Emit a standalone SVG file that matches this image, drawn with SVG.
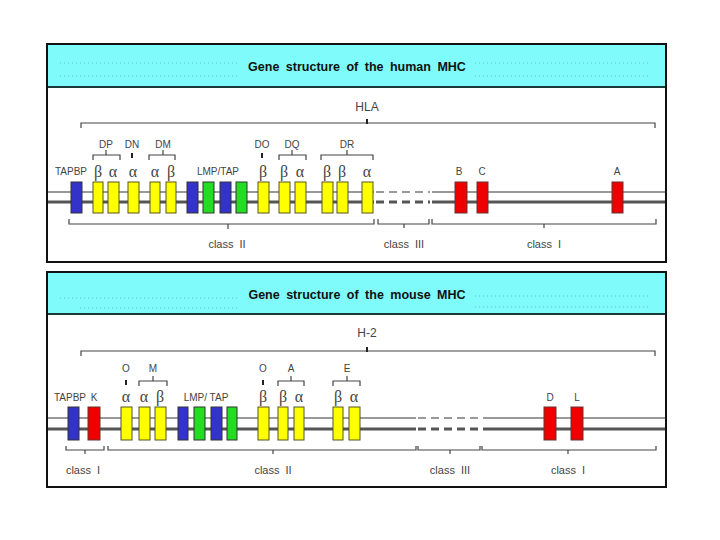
<svg xmlns="http://www.w3.org/2000/svg" width="720" height="540" viewBox="0 0 720 540">
<defs>
<style>
.panel{fill:#fff;stroke:#111;stroke-width:2}
.hdr{fill:#80fbfb}
.hline{stroke:#1a3a3a;stroke-width:2}
.dots{stroke:#5cc9c9;stroke-width:1;stroke-dasharray:1 3}
.title{font-family:"Liberation Sans",Arial,sans-serif;font-size:12.5px;font-weight:bold;fill:#111;text-anchor:middle;word-spacing:3px}
.lab{font-family:"Liberation Sans",Arial,sans-serif;font-size:10px;fill:#444;text-anchor:middle}
.big{font-family:"Liberation Sans",Arial,sans-serif;font-size:12px;fill:#444;text-anchor:middle}
.cls{font-family:"Liberation Sans",Arial,sans-serif;font-size:11px;fill:#444;text-anchor:middle;word-spacing:3px}
.sym{font-family:"Liberation Serif","DejaVu Serif",serif;font-size:16px;fill:#444;text-anchor:middle}
.br{fill:none;stroke:#444;stroke-width:1.2}
.tk{stroke:#222;stroke-width:2}
.l1{stroke:#999;stroke-width:2}
.l2{stroke:#555;stroke-width:3}
.d1{stroke:#999;stroke-width:2;stroke-dasharray:8 5}
.d2{stroke:#555;stroke-width:3;stroke-dasharray:8 5}
.y{fill:#ffff00;stroke:#555522;stroke-width:1}
.b{fill:#3333cc;stroke:#333;stroke-width:1}
.g{fill:#22dd22;stroke:#333;stroke-width:1}
.r{fill:#ee0000;stroke:#663333;stroke-width:1}
</style>
</defs>

<!-- HUMAN PANEL -->
<g id="human-panel">
<rect class="panel" x="47" y="44" width="619" height="218"/>
<rect class="hdr" x="48" y="45" width="617" height="42"/>
<line class="dots" x1="60" y1="63" x2="240" y2="63"/>
<line class="dots" x1="60" y1="76" x2="240" y2="76"/>
<line class="dots" x1="475" y1="63" x2="650" y2="63"/>
<line class="dots" x1="475" y1="76" x2="650" y2="76"/>
<line class="hline" x1="48" y1="87" x2="665" y2="87"/>
<text class="title" x="357" y="71">Gene structure of the human MHC</text>
<text class="big" x="367" y="111">HLA</text>
</g>

<g id="human-connectors">
<path class="br" d="M81,128 V123 H655 V128"/>
<line class="tk" x1="367" y1="119" x2="367" y2="124"/>
<path class="br" d="M93,160 V155 H120 V160"/><line class="br" x1="106" y1="150" x2="106" y2="155"/>
<line class="tk" x1="132" y1="153" x2="132" y2="158"/>
<path class="br" d="M149,160 V155 H175 V160"/><line class="br" x1="163" y1="150" x2="163" y2="155"/>
<line class="tk" x1="262" y1="153" x2="262" y2="158"/>
<path class="br" d="M279,160 V155 H306 V160"/><line class="br" x1="292" y1="150" x2="292" y2="155"/>
<path class="br" d="M321,160 V155 H373 V160"/><line class="br" x1="347" y1="150" x2="347" y2="155"/>
<line class="l1" x1="48" y1="192" x2="374" y2="192"/>
<line class="l2" x1="48" y1="202" x2="374" y2="202"/>
<line class="d1" x1="376" y1="192" x2="430" y2="192"/>
<line class="d2" x1="376" y1="202" x2="430" y2="202"/>
<line class="l1" x1="432" y1="192" x2="665" y2="192"/>
<line class="l2" x1="432" y1="202" x2="665" y2="202"/>
<path class="br" d="M69,219 V224 H374 V219"/><line class="br" x1="228" y1="224" x2="228" y2="229"/>
<path class="br" d="M378,219 V224 H429 V219"/><line class="br" x1="404" y1="224" x2="404" y2="228"/>
<path class="br" d="M432,219 V224 H656 V219"/><line class="br" x1="544" y1="224" x2="544" y2="228"/>
</g>

<g id="human-labels">
<text class="lab" x="106" y="148">DP</text>
<text class="lab" x="132" y="148">DN</text>
<text class="lab" x="163" y="148">DM</text>
<text class="lab" x="262" y="148">DO</text>
<text class="lab" x="292" y="148">DQ</text>
<text class="lab" x="347" y="148">DR</text>
<text class="lab" x="71" y="175">TAPBP</text>
<text class="lab" x="218" y="175">LMP/TAP</text>
<text class="lab" x="459" y="175">B</text>
<text class="lab" x="482" y="175">C</text>
<text class="lab" x="617" y="175">A</text>
<text class="cls" x="227" y="248">class II</text>
<text class="cls" x="404" y="248">class III</text>
<text class="cls" x="544" y="248">class I</text>
</g>

<g id="h-TAPBP"><rect class="b" x="71" y="182" width="11" height="31"/></g>
<g id="h-DPB"><rect class="y" x="93" y="182" width="10" height="31"/><text class="sym" x="98" y="177">β</text></g>
<g id="h-DPA"><rect class="y" x="108" y="182" width="11" height="31"/><text class="sym" x="113" y="177">α</text></g>
<g id="h-DNA"><rect class="y" x="128" y="182" width="11" height="31"/><text class="sym" x="133" y="177">α</text></g>
<g id="h-DMA"><rect class="y" x="150" y="182" width="10" height="31"/><text class="sym" x="155" y="177">α</text></g>
<g id="h-DMB"><rect class="y" x="166" y="182" width="10" height="31"/><text class="sym" x="171" y="177">β</text></g>
<g id="h-LMP1"><rect class="b" x="187" y="182" width="11" height="31"/></g>
<g id="h-TAP1"><rect class="g" x="203" y="182" width="11" height="31"/></g>
<g id="h-LMP2"><rect class="b" x="220" y="182" width="11" height="31"/></g>
<g id="h-TAP2"><rect class="g" x="236" y="182" width="11" height="31"/></g>
<g id="h-DOB"><rect class="y" x="258" y="182" width="11" height="31"/><text class="sym" x="263" y="177">β</text></g>
<g id="h-DQB"><rect class="y" x="279" y="182" width="11" height="31"/><text class="sym" x="284" y="177">β</text></g>
<g id="h-DQA"><rect class="y" x="295" y="182" width="11" height="31"/><text class="sym" x="300" y="177">α</text></g>
<g id="h-DRB1"><rect class="y" x="322" y="182" width="11" height="31"/><text class="sym" x="327" y="177">β</text></g>
<g id="h-DRB2"><rect class="y" x="337" y="182" width="11" height="31"/><text class="sym" x="342" y="177">β</text></g>
<g id="h-DRA"><rect class="y" x="362" y="182" width="11" height="31"/><text class="sym" x="367" y="177">α</text></g>
<g id="h-B"><rect class="r" x="455" y="182" width="12" height="31"/></g>
<g id="h-C"><rect class="r" x="477" y="182" width="11" height="31"/></g>
<g id="h-A"><rect class="r" x="612" y="182" width="11" height="31"/></g>

<!-- MOUSE PANEL -->
<g id="mouse-panel">
<rect class="panel" x="47" y="272" width="619" height="215"/>
<rect class="hdr" x="48" y="273" width="617" height="41"/>
<line class="dots" x1="60" y1="298" x2="240" y2="298"/>
<line class="dots" x1="80" y1="308" x2="240" y2="308"/>
<line class="dots" x1="475" y1="296" x2="650" y2="296"/>
<line class="dots" x1="475" y1="307" x2="650" y2="307"/>
<line class="hline" x1="48" y1="314" x2="665" y2="314"/>
<text class="title" x="357" y="299">Gene structure of the mouse MHC</text>
<text class="big" x="367" y="337">H-2</text>
</g>

<g id="mouse-connectors">
<path class="br" d="M81,356 V351 H655 V356"/>
<line class="tk" x1="367" y1="347" x2="367" y2="352"/>
<line class="tk" x1="126" y1="380" x2="126" y2="385"/>
<path class="br" d="M139,386 V381 H167 V386"/><line class="br" x1="153" y1="376" x2="153" y2="381"/>
<line class="tk" x1="263" y1="380" x2="263" y2="385"/>
<path class="br" d="M278,386 V381 H304 V386"/><line class="br" x1="291" y1="376" x2="291" y2="381"/>
<path class="br" d="M333,386 V381 H360 V386"/><line class="br" x1="347" y1="376" x2="347" y2="381"/>
<line class="l1" x1="48" y1="418" x2="416" y2="418"/>
<line class="l2" x1="48" y1="429" x2="416" y2="429"/>
<line class="d1" x1="418" y1="418" x2="486" y2="418"/>
<line class="d2" x1="418" y1="429" x2="486" y2="429"/>
<line class="l1" x1="486" y1="418" x2="665" y2="418"/>
<line class="l2" x1="486" y1="429" x2="665" y2="429"/>
<path class="br" d="M66,446 V450 H104 V446"/><line class="br" x1="85" y1="450" x2="85" y2="454"/>
<path class="br" d="M108,446 V450 H416 V446"/><line class="br" x1="273" y1="450" x2="273" y2="454"/>
<path class="br" d="M418,446 V450 H480 V446"/><line class="br" x1="450" y1="450" x2="450" y2="454"/>
<path class="br" d="M482,446 V450 H656 V446"/><line class="br" x1="568" y1="450" x2="568" y2="454"/>
</g>

<g id="mouse-labels">
<text class="lab" x="126" y="372">O</text>
<text class="lab" x="153" y="372">M</text>
<text class="lab" x="263" y="372">O</text>
<text class="lab" x="291" y="372">A</text>
<text class="lab" x="347" y="372">E</text>
<text class="lab" x="70" y="401">TAPBP</text>
<text class="lab" x="94" y="401">K</text>
<text class="lab" x="206" y="401">LMP/ TAP</text>
<text class="lab" x="550" y="401">D</text>
<text class="lab" x="577" y="401">L</text>
<text class="cls" x="83" y="474">class I</text>
<text class="cls" x="273" y="474">class II</text>
<text class="cls" x="450" y="474">class III</text>
<text class="cls" x="568" y="474">class I</text>
</g>

<g id="m-TAPBP"><rect class="b" x="68" y="407" width="11" height="33"/></g>
<g id="m-K"><rect class="r" x="88" y="407" width="12" height="33"/></g>
<g id="m-OA"><rect class="y" x="121" y="407" width="11" height="33"/><text class="sym" x="126" y="402">α</text></g>
<g id="m-MA"><rect class="y" x="139" y="407" width="11" height="33"/><text class="sym" x="144" y="402">α</text></g>
<g id="m-MB"><rect class="y" x="155" y="407" width="11" height="33"/><text class="sym" x="160" y="402">β</text></g>
<g id="m-LMP1"><rect class="b" x="178" y="407" width="10" height="33"/></g>
<g id="m-TAP1"><rect class="g" x="194" y="407" width="11" height="33"/></g>
<g id="m-LMP2"><rect class="b" x="211" y="407" width="11" height="33"/></g>
<g id="m-TAP2"><rect class="g" x="227" y="407" width="10" height="33"/></g>
<g id="m-OB"><rect class="y" x="258" y="407" width="11" height="33"/><text class="sym" x="263" y="402">β</text></g>
<g id="m-AB"><rect class="y" x="278" y="407" width="10" height="33"/><text class="sym" x="283" y="402">β</text></g>
<g id="m-AA"><rect class="y" x="294" y="407" width="10" height="33"/><text class="sym" x="299" y="402">α</text></g>
<g id="m-EB"><rect class="y" x="333" y="407" width="10" height="33"/><text class="sym" x="338" y="402">β</text></g>
<g id="m-EA"><rect class="y" x="349" y="407" width="11" height="33"/><text class="sym" x="354" y="402">α</text></g>
<g id="m-D"><rect class="r" x="544" y="407" width="12" height="33"/></g>
<g id="m-L"><rect class="r" x="571" y="407" width="12" height="33"/></g>
</svg>
